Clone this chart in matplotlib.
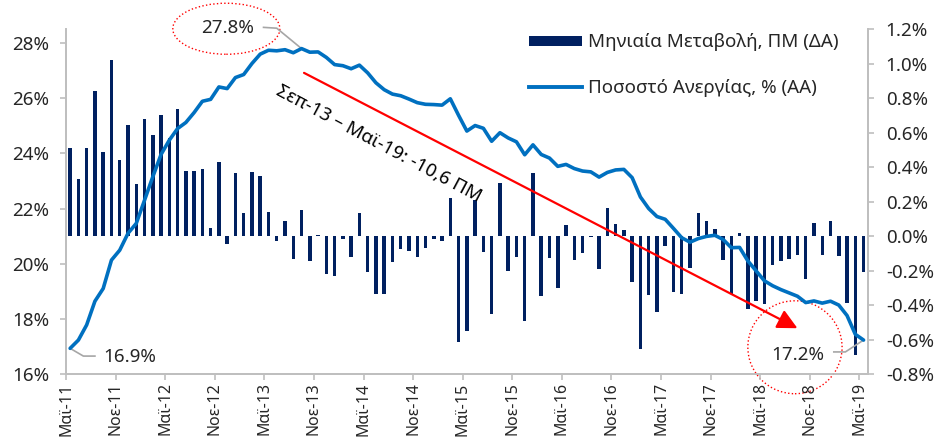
import matplotlib
matplotlib.use("Agg")
import matplotlib.pyplot as plt
import numpy as np
from matplotlib.patches import Ellipse, Patch
from matplotlib.lines import Line2D
from matplotlib.ticker import FuncFormatter

plt.rcParams['font.family'] = ['Noto Sans', 'DejaVu Sans']

# Μαϊ-11 ... Μαϊ-19, μηνιαία
greek_months = ['Ιαν', 'Φεβ', 'Μαρ', 'Απρ', 'Μαϊ', 'Ιουν',
                'Ιουλ', 'Αυγ', 'Σεπ', 'Οκτ', 'Νοε', 'Δεκ']
months = [f"{greek_months[(4 + k) % 12]}-{11 + (4 + k) // 12}" for k in range(97)]

# ποσοστό ανεργίας (%) - αριστερός άξονας
rate = [16.93, 17.23, 17.78, 18.64, 19.10, 20.13, 20.49, 21.10, 21.46, 22.30,
        23.15, 23.96, 24.48, 24.90, 25.12, 25.48, 25.89, 25.96, 26.41, 26.35,
        26.75, 26.86, 27.26, 27.60, 27.74, 27.72, 27.76, 27.65, 27.80, 27.67,
        27.68, 27.48, 27.22, 27.18, 27.07, 27.20, 26.92, 26.56, 26.31, 26.15,
        26.09, 25.97, 25.84, 25.78, 25.77, 25.75, 25.98, 25.38, 24.81, 25.01,
        24.91, 24.44, 24.75, 24.56, 24.42, 23.95, 24.31, 23.96, 23.83, 23.53,
        23.60, 23.45, 23.36, 23.33, 23.14, 23.31, 23.40, 23.42, 23.12, 22.42,
        22.00, 21.71, 21.61, 21.28, 20.94, 20.78, 20.91, 20.99, 21.03, 20.88,
        20.58, 20.59, 20.10, 19.74, 19.38, 19.20, 19.06, 18.94, 18.82, 18.59,
        18.65, 18.57, 18.64, 18.50, 18.12, 17.44, 17.23]

# μηνιαία μεταβολή (ΠΜ) - δεξιός άξονας
change = [0.510, 0.330, 0.514, 0.843, 0.490, 1.022, 0.442, 0.642, 0.305, 0.680,
          0.587, 0.700, 0.568, 0.735, 0.379, 0.376, 0.388, 0.049, 0.432, -0.046,
          0.365, 0.135, 0.372, 0.350, 0.140, -0.030, 0.087, -0.134, 0.149, -0.143,
          0.006, -0.220, -0.234, -0.019, -0.121, 0.133, -0.211, -0.337, -0.334, -0.151,
          -0.077, -0.085, -0.124, -0.067, -0.016, -0.029, 0.221, -0.615, -0.553, 0.208,
          -0.092, -0.452, 0.308, -0.204, -0.124, -0.491, 0.366, -0.349, -0.129, -0.301,
          0.062, -0.138, -0.100, -0.008, -0.193, 0.161, 0.072, 0.035, -0.266, -0.655,
          -0.344, -0.441, -0.055, -0.325, -0.336, -0.184, 0.133, 0.087, 0.041, -0.138,
          -0.336, 0.020, -0.422, -0.379, -0.393, -0.170, -0.147, -0.133, -0.108, -0.249,
          0.077, -0.108, 0.089, -0.113, -0.386, -0.692, -0.211]

tick_pos = list(range(0, 97, 6))
tick_labels = [months[p] for p in tick_pos]

bar_label = 'Μηνιαία Μεταβολή, ΠΜ (ΔΑ)'
line_label = 'Ποσοστό Ανεργίας, % (ΑΑ)'

BAR_C = '#002060'
LINE_C = '#0070C0'
AXIS_C = '#BFBFBF'
TXT_C = '#262626'
FS = 13.5

fig = plt.figure(figsize=(9.36, 4.42), dpi=100)
ax = fig.add_axes([66 / 936, 1 - 374 / 442, (867.7 - 66) / 936, (374 - 29.3) / 442])
ax2 = ax.twinx()
ax.set_zorder(2)
ax.patch.set_visible(False)

x = np.arange(len(rate)) + 0.5
ax2.bar(x, change, width=0.42, color=BAR_C)
ax.plot(x, rate, color=LINE_C, lw=2.6, solid_capstyle='round', zorder=3)

ax.set_xlim(0, len(rate))
ax.set_ylim(16, 28.5)
ax2.set_ylim(-0.8, 1.2)
ax.set_yticks(np.arange(16, 28.1, 2))
ax2.set_yticks(np.arange(-0.8, 1.21, 0.2))
ax.yaxis.set_major_formatter(FuncFormatter(lambda v, p: f"{v:.0f}%"))
ax2.yaxis.set_major_formatter(FuncFormatter(lambda v, p: f"{round(v, 1) + 0.0:.1f}%"))
ax.set_xticks(tick_pos)
ax.set_xticklabels(tick_labels, rotation=90, va='top')

for a in (ax, ax2):
    for s in a.spines.values():
        s.set_color(AXIS_C)
        s.set_linewidth(1.3)
    a.spines['top'].set_visible(False)
    a.tick_params(colors=AXIS_C, labelcolor=TXT_C, labelsize=FS, length=4, width=1.2)
ax.tick_params(axis='y', pad=8)
ax2.tick_params(axis='y', pad=9)
# οι ετικέτες του x λίγο μικρότερες ώστε να χωρούν στο κάτω άκρο
ax.tick_params(axis='x', pad=2, labelsize=11.5)

handles = [Patch(facecolor=BAR_C, edgecolor='none'), Line2D([], [], color=LINE_C, lw=2.8)]
fig.legend(handles, [bar_label, line_label], loc='upper left',
           bbox_to_anchor=(520 / 936, 1 - 24 / 442), frameon=False, fontsize=FS,
           handlelength=2.8, handleheight=0.45, handletextpad=0.3, labelspacing=1.45,
           borderpad=0, labelcolor=TXT_C)

# σχόλια
peak = int(np.argmax(rate))
last = len(rate) - 1
grey = '#A6A6A6'
red = '#FF0000'

ax.text(19.5, 28.54, f"{rate[peak]:.1f}%", ha='center', va='center', fontsize=FS, color=TXT_C, clip_on=False)
ax.plot([23.9, 25.5, x[peak]], [28.57, 28.54, rate[peak]], color=grey, lw=1.2, clip_on=False)
ax.add_patch(Ellipse((19.4, 28.52), 12.95, 1.85, fill=False, ec=red, ls=':', lw=1.0, clip_on=False))

ax.text(7.75, 16.62, f"{rate[0]:.1f}%", ha='center', va='center', fontsize=FS, color=TXT_C)
ax.plot([x[0], 2.1, 3.5], [rate[0], 16.65, 16.65], color=grey, lw=1.2)

ax.text(88.6, 16.69, f"{rate[last]:.1f}%", ha='center', va='center', fontsize=FS, color=TXT_C)
ax.plot([92.9, 94.3, x[last]], [16.8, 16.8, rate[last]], color=grey, lw=1.2)
ax.add_patch(Ellipse((88.2, 16.97), 11.4, 3.37, fill=False, ec=red, ls=':', lw=1.0, clip_on=False))

ax.annotate('', xy=(88.5, 17.66), xytext=(28.8, 26.92),
            arrowprops=dict(arrowstyle='-|>,head_length=1.2,head_width=0.6', color=red, lw=1.6,
                            shrinkA=0, shrinkB=0))
ax.text(37.8, 24.35, 'Σεπ-13 – Μαϊ-19: -10,6 ΠΜ', rotation=-28, rotation_mode='anchor',
        ha='center', va='center', fontsize=FS, color='black')

fig.savefig('out.png', dpi=100)
